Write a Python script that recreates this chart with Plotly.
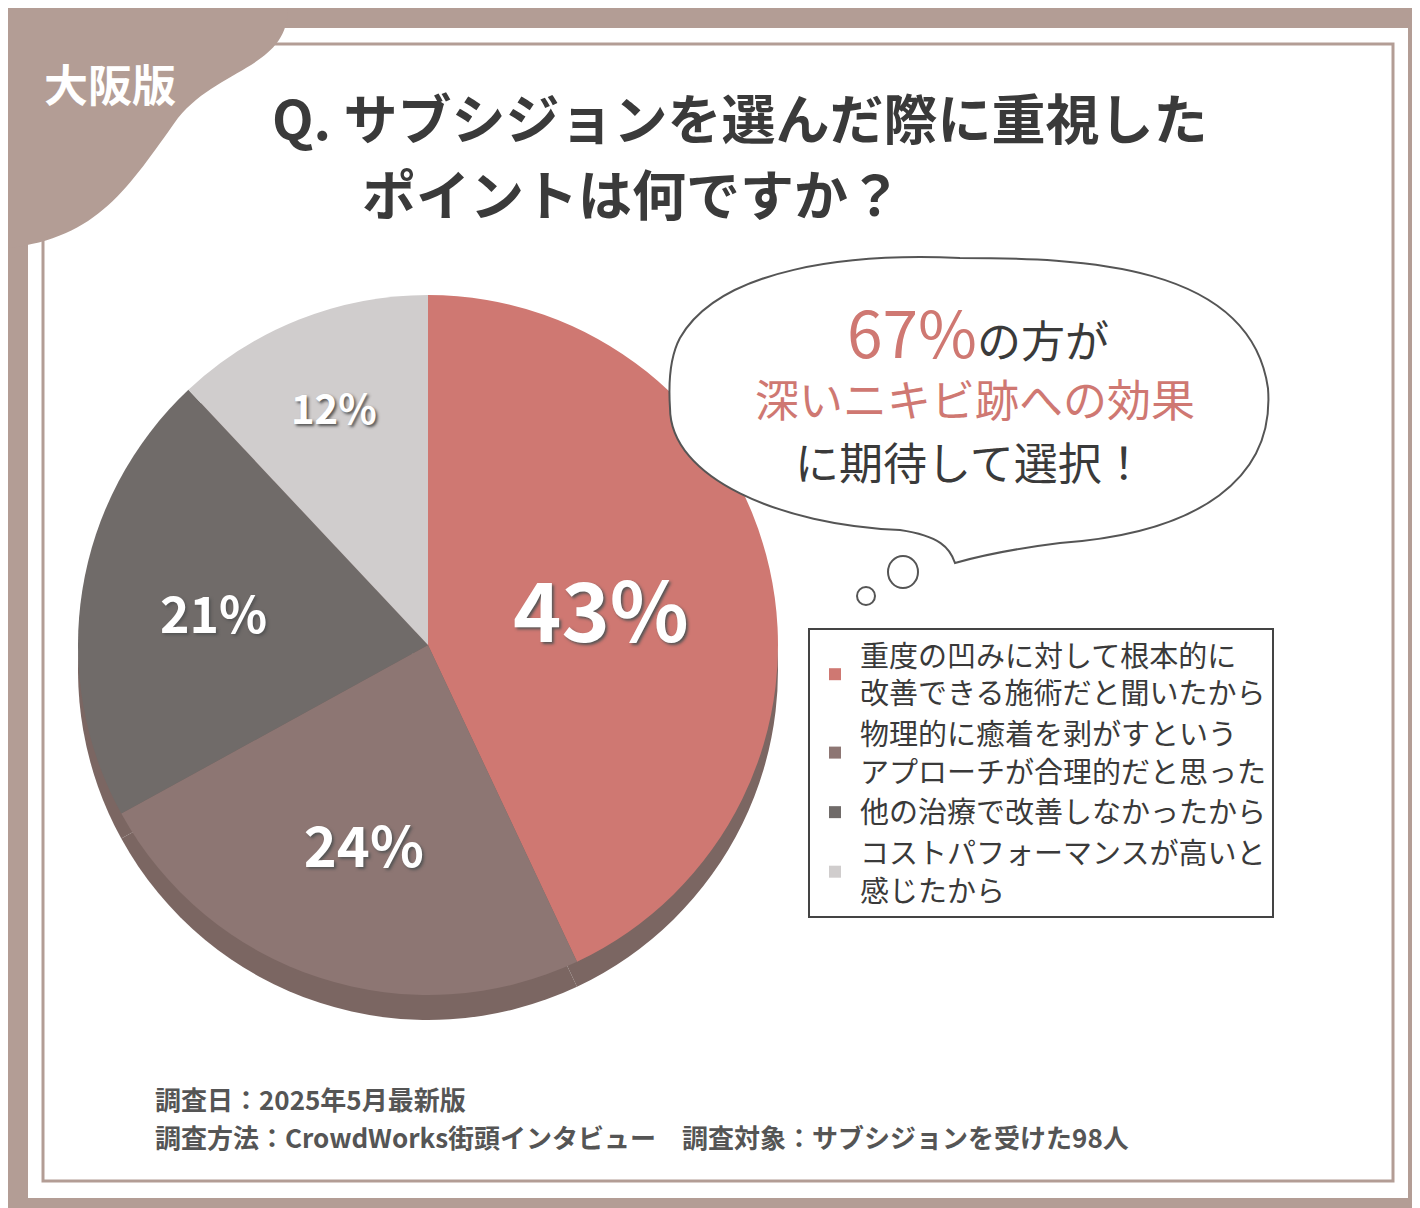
import plotly.graph_objects as go

W, H = 1420, 1208

labels = [
    "重度の凹みに対して根本的に<br>改善できる施術だと聞いたから",
    "物理的に癒着を剥がすという<br>アプローチが合理的だと思った",
    "他の治療で改善しなかったから",
    "コストパフォーマンスが高いと<br>感じたから",
]
values = [43, 24, 21, 12]
colors = ["#cf7872", "#8d7673", "#706b69", "#d0cdcd"]
text_sizes = [82, 56, 50, 40]

FONT = "Noto Sans CJK JP"
BROWN = "#b39d95"


def px(x):
    return x / W


def py(y):
    return 1 - y / H


def path(points_cmd):
    # convert pixel path to paper coords
    out = []
    for tok in points_cmd:
        if isinstance(tok, str):
            out.append(tok)
        else:
            out.append(f"{px(tok[0]):.4f},{py(tok[1]):.4f}")
    return " ".join(out)


fig = go.Figure()

# shadow pie
fig.add_trace(go.Pie(
    values=values, labels=labels, sort=False, direction="clockwise", rotation=0,
    marker=dict(colors=["#7b6662"] * 4, line=dict(width=0)),
    textinfo="none", hoverinfo="skip", showlegend=False,
    domain=dict(x=[px(70), px(770)], y=[py(1012), py(312)]),
))
fig.add_trace(go.Pie(
    values=values, labels=labels, sort=False, direction="clockwise", rotation=0,
    marker=dict(colors=colors, line=dict(width=0)),
    texttemplate="%{value}%", textposition="inside", insidetextorientation="horizontal",
    textfont=dict(family=FONT, color="white", size=text_sizes, weight="bold",
                  shadow="2px 2px 3px #555"),
    domain=dict(x=[px(70), px(770)], y=[py(987), py(287)]),
))

shapes = [
    dict(type="rect", xref="paper", yref="paper", x0=px(20), x1=px(1400), y0=py(1190), y1=py(20),
         fillcolor="white", line=dict(width=0), layer="below"),
    dict(type="rect", xref="paper", yref="paper", x0=px(35), x1=px(1385), y0=py(1173), y1=py(36),
         fillcolor="rgba(0,0,0,0)", line=dict(color=BROWN, width=3), layer="below"),
    dict(type="path", xref="paper", yref="paper", fillcolor=BROWN, line=dict(width=0), layer="below",
         path=path(["M", (0, 0), "L", (280, 0), "C", (280, 60), (210, 60), (170, 110),
                    "C", (120, 180), (90, 230), (0, 240), "Z"])),
    # speech bubble
    dict(type="path", xref="paper", yref="paper", fillcolor="white",
         line=dict(color="#555", width=2),
         path=path(["M", (672, 330),
                    "C", (712, 260), (842, 245), (952, 250),
                    "C", (1072, 250), (1242, 255), (1260, 380),
                    "C", (1267, 470), (1192, 525), (1052, 535),
                    "C", (1012, 540), (982, 545), (947, 555),
                    "C", (942, 540), (932, 528), (892, 522),
                    "C", (772, 517), (662, 470), (662, 400),
                    "C", (660, 370), (664, 345), (672, 330), "Z"])),
    dict(type="circle", xref="paper", yref="paper", x0=px(880), x1=px(910), y0=py(580), y1=py(548),
         fillcolor="white", line=dict(color="#555", width=2)),
    dict(type="circle", xref="paper", yref="paper", x0=px(849), x1=px(867), y0=py(597), y1=py(579),
         fillcolor="white", line=dict(color="#555", width=2)),
]

ann = [
    dict(text="大阪版", x=px(102), y=py(75), font=dict(size=44, color="white", weight="bold")),
    dict(text="Q. サブシジョンを選んだ際に重視した", x=px(262), y=py(108), xanchor="left",
         font=dict(size=54, color="#3a3a3a", weight="bold")),
    dict(text="ポイントは何ですか？", x=px(352), y=py(184), xanchor="left",
         font=dict(size=54, color="#3a3a3a", weight="bold")),
    dict(text="<span style='font-size:64px;color:#cf7872'>67%</span>の方が", x=px(970), y=py(322),
         font=dict(size=44, color="#3a3a3a")),
    dict(text="深いニキビ跡への効果", x=px(967), y=py(390), font=dict(size=44, color="#cf7872")),
    dict(text="に期待して選択！", x=px(962), y=py(453), font=dict(size=44, color="#3a3a3a")),
    dict(text="調査日：2025年5月最新版", x=px(145), y=py(1090), xanchor="left",
         font=dict(size=26, color="#555", weight="bold")),
    dict(text="調査方法：CrowdWorks街頭インタビュー　調査対象：サブシジョンを受けた98人",
         x=px(145), y=py(1128), xanchor="left", font=dict(size=26, color="#555", weight="bold")),
]
for a in ann:
    a.update(xref="paper", yref="paper", showarrow=False, yanchor="middle")
    a.setdefault("xanchor", "center")
    a["font"].setdefault("family", FONT)

fig.update_layout(
    width=W, height=H, margin=dict(l=0, r=0, t=0, b=0),
    paper_bgcolor=BROWN, plot_bgcolor=BROWN,
    shapes=shapes, annotations=ann,
    legend=dict(x=px(800), y=py(620), xanchor="left", yanchor="top",
                bordercolor="#444", borderwidth=2, bgcolor="white",
                font=dict(family=FONT, size=29, color="#3a3a3a"),
                tracegroupgap=0, itemwidth=40),
)

fig.write_html("out.html")
